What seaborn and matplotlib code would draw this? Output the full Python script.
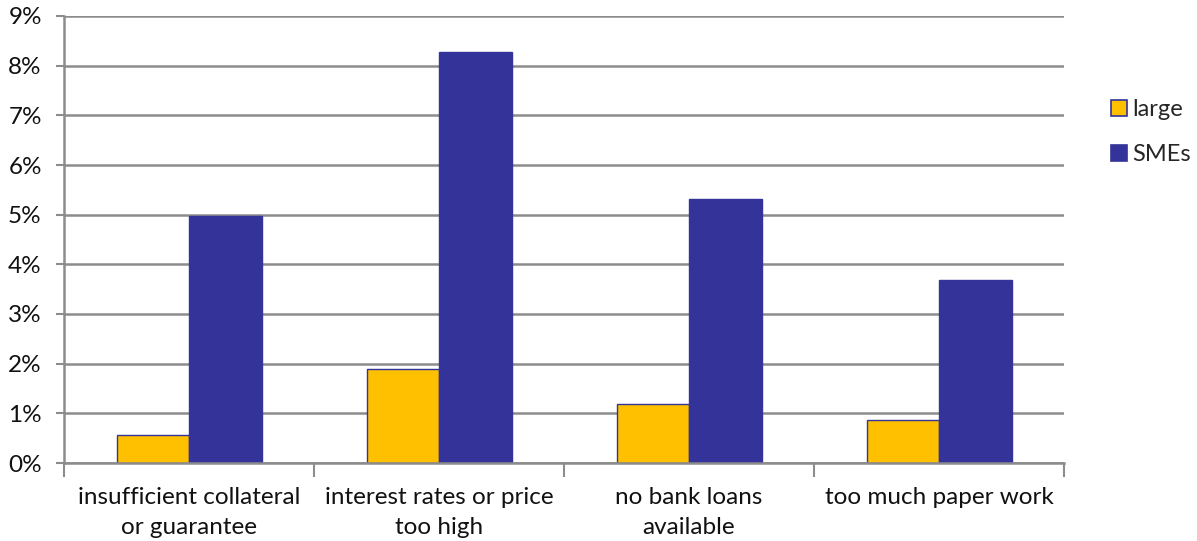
import pandas as pd
import matplotlib.pyplot as plt
import seaborn as sns
from matplotlib.ticker import FuncFormatter, FixedLocator

sns.set_theme(style="white")
plt.rcParams['font.family'] = ['Lato', 'DejaVu Sans']

# data
categories = ["insufficient collateral\nor guarantee",
              "interest rates or price\ntoo high",
              "no bank loans\navailable",
              "too much paper work"]
large = [0.56, 1.89, 1.19, 0.87]
smes = [4.97, 8.27, 5.31, 3.69]

df = pd.DataFrame({
    "reason": categories * 2,
    "group": ["large"] * 4 + ["SMEs"] * 4,
    "value": large + smes,
})

fig = plt.figure(figsize=(11.97, 5.41), dpi=100)
ax = fig.add_axes([64 / 1197, 1 - 463 / 541, 1000 / 1197, 447 / 541])

sns.barplot(data=df, x="reason", y="value", hue="group",
            palette=["#FFC000", "#333399"], width=0.58,
            edgecolor="#333399", linewidth=1, saturation=1,
            legend=False, ax=ax)

ax.set_xlim(-0.5, 3.5)
ax.set_ylim(0, 9)
ax.set_yticks(range(0, 10))
ax.yaxis.set_major_formatter(FuncFormatter(lambda v, p: f"{int(v)}%"))
ax.set_xlabel("")
ax.set_ylabel("")

ax.grid(axis="y", color="#8c8c8c", linewidth=1.8)
ax.set_axisbelow(True)
for s in ["top", "right"]:
    ax.spines[s].set_visible(False)
ax.spines["left"].set_color("#8c8c8c")
ax.spines["left"].set_linewidth(1.8)
ax.spines["bottom"].set_color("#8c8c8c")
ax.spines["bottom"].set_linewidth(1.8)

ax.set_xticks(range(len(categories)))
ax.set_xticklabels(categories, linespacing=1.55)
ax.tick_params(axis="x", which="major", length=0, labelsize=17.5,
               labelcolor="#111111", pad=17)
ax.xaxis.set_minor_locator(FixedLocator([-0.5, 0.5, 1.5, 2.5, 3.5]))
ax.tick_params(axis="x", which="minor", bottom=True, length=10,
               width=1.5, color="#8c8c8c")
ax.tick_params(axis="y", left=True, length=6, width=1.5, color="#8c8c8c",
               labelsize=17.5, labelcolor="#111111", pad=10)

handles = [plt.Line2D([], [], marker="s", linestyle="", markersize=12,
                      markerfacecolor=c, markeredgecolor="#333399",
                      markeredgewidth=1.2)
           for c in ["#FFC000", "#333399"]]
fig.legend(handles, ["large", "SMEs"], loc="upper left",
           bbox_to_anchor=(1098 / 1197, 1 - 90 / 541), frameon=False,
           fontsize=17, handletextpad=0.05, labelspacing=1.0,
           borderaxespad=0, handlelength=1)

fig.savefig("out.png", dpi=100)
